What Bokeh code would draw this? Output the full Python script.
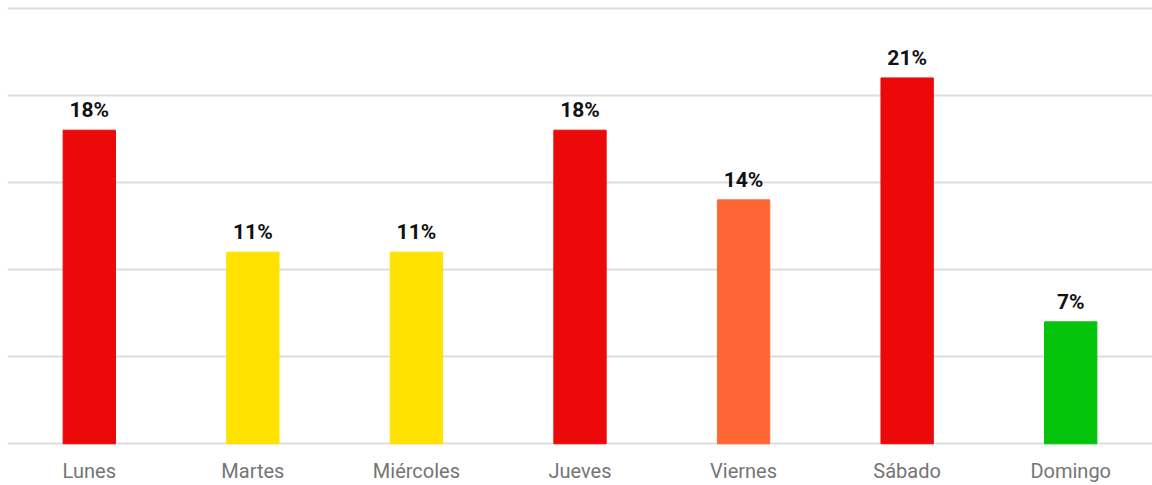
from bokeh.plotting import figure
from bokeh.models import ColumnDataSource, FixedTicker, Range1d
from bokeh.core.properties import value
from bokeh.embed import file_html
from bokeh.resources import INLINE

days = ["Lunes", "Martes", "Miércoles", "Jueves", "Viernes", "Sábado", "Domingo"]
values = [18, 11, 11, 18, 14, 21, 7]
labels = ["18%", "11%", "11%", "18%", "14%", "21%", "7%"]
colors = ["#EC0909", "#FFE200", "#FFE200", "#EC0909", "#FF6633", "#EC0909", "#04C30B"]
y_ticks = [0, 5, 10, 15, 20, 25]

src = ColumnDataSource(dict(day=days, val=values, lab=labels, col=colors))

p = figure(x_range=days, y_range=Range1d(-0.1, 25.1), width=1152, height=485,
           output_backend="svg", toolbar_location=None,
           min_border_left=7, min_border_right=0, min_border_top=6, min_border_bottom=40)
p.outline_line_color = None
p.background_fill_color = "white"
p.border_fill_color = "white"

p.vbar(x="day", top="val", width=0.32, color="col", source=src)
p.text(x="day", y="val", text="lab", source=src, y_offset=-20,
       text_align="center", text_baseline="alphabetic",
       text_font=value("Roboto"), text_font_size="21px", text_font_style="bold",
       text_color="#111111")

p.yaxis.visible = False
p.ygrid.ticker = FixedTicker(ticks=y_ticks)
p.ygrid.grid_line_color = "#DDDDDD"
p.ygrid.grid_line_width = 2
p.xgrid.grid_line_color = None

p.xaxis.axis_line_color = None
p.xaxis.major_tick_line_color = None
p.xaxis.minor_tick_line_color = None
p.xaxis.major_tick_out = 0
p.xaxis.major_tick_in = 0
p.xaxis.major_label_standoff = 13
p.xaxis.major_label_text_font = "Roboto"
p.xaxis.major_label_text_font_size = "20px"
p.xaxis.major_label_text_color = "#757575"

open("out.html", "w").write(file_html(p, INLINE))
